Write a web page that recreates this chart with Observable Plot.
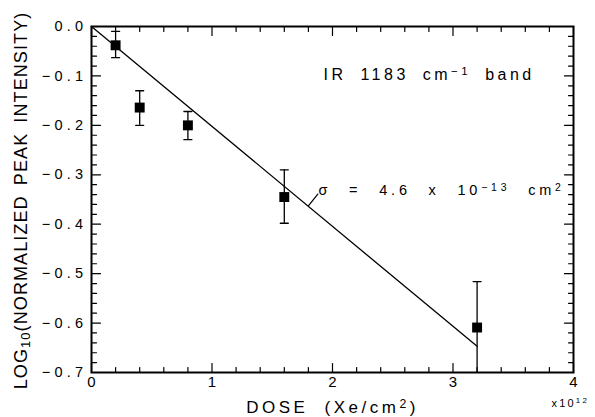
<!DOCTYPE html>
<html><head><meta charset="utf-8">
<script src="https://cdn.jsdelivr.net/npm/d3@7"></script>
<script src="https://cdn.jsdelivr.net/npm/@observablehq/plot@0.6"></script>
<style>
html,body{margin:0;padding:0;background:#fff;}
</style>
</head><body><div id="chart"></div>
<script>
// ---- data ----
const dose   = [0.2, 0.4, 0.8, 1.6, 3.2];            // x10^12 Xe/cm^2
const logInt = [-0.038, -0.164, -0.200, -0.345, -0.609];
const errHi  = [-0.010, -0.130, -0.172, -0.290, -0.516];
const errLo  = [-0.063, -0.200, -0.229, -0.398, -0.700];
const fitDose = [0, 3.2];
const fitLog  = [0, -0.647];
const leaderDose = [1.80, 1.878];
const leaderLog  = [-0.363, -0.339];
const xMajor = [0, 1, 2, 3, 4];
const xTickLabels = ["0", "1", "2", "3", "4"];
const yMajor = [0, -0.1, -0.2, -0.3, -0.4, -0.5, -0.6, -0.7];
const yTickLabels = ["0.0", "\u22120.1", "\u22120.2", "\u22120.3", "\u22120.4", "\u22120.5", "\u22120.6", "\u22120.7"];
const xMinor = d3.range(0, 4.0001, 0.2);
const yMinor = d3.range(0, -0.7001, -0.02);
const bandLabel = "IR 1183 cm^{\u22121} band";
const sigmaLabel = "\u03c3 = 4.6 x 10^{\u221213} cm^{2}";
const xTitle = "DOSE (Xe/cm^{2})";
const yTitle = "LOG_{10}(NORMALIZED PEAK INTENSITY)";
const xExp = "x10^{12}";

const points = dose.map((d, i) => ({dose: d, v: logInt[i], hi: errHi[i], lo: errLo[i]}));
const fit = fitDose.map((d, i) => ({dose: d, v: fitLog[i]}));
const leader = leaderDose.map((d, i) => ({dose: d, v: leaderLog[i]}));

const tickShape = {draw(ctx, l) { ctx.moveTo(0, 0); ctx.lineTo(0, -l); }};
const isMajorX = d => Math.abs(d - Math.round(d)) < 1e-6;
const isMajorY = d => Math.abs(d * 10 - Math.round(d * 10)) < 1e-6;
const xMin = xMinor.filter(d => !isMajorX(d));
const yMin = yMinor.filter(d => !isMajorY(d));

const tk = {shape: tickShape, anchor: "start", stroke: "black", strokeWidth: 1.2};

const chart = Plot.plot({
  width: 595, height: 417,
  marginLeft: 91, marginRight: 22, marginTop: 26, marginBottom: 45,
  x: {domain: [0, 4], axis: null},
  y: {domain: [-0.7, 0], axis: null},
  style: {fontFamily: "'Liberation Sans', Arial, sans-serif", background: "white", color: "black"},
  marks: [
    // ticks, inward on all four sides
    Plot.vector(xMajor, {x: d => d, frameAnchor: "bottom", length: 9, rotate: 0, ...tk}),
    Plot.vector(xMin, {x: d => d, frameAnchor: "bottom", length: 5, rotate: 0, ...tk}),
    Plot.vector(xMajor, {x: d => d, frameAnchor: "top", length: 9, rotate: 180, ...tk}),
    Plot.vector(xMin, {x: d => d, frameAnchor: "top", length: 5, rotate: 180, ...tk}),
    Plot.vector(yMajor, {y: d => d, frameAnchor: "left", length: 9, rotate: 90, ...tk}),
    Plot.vector(yMin, {y: d => d, frameAnchor: "left", length: 5, rotate: 90, ...tk}),
    Plot.vector(yMajor, {y: d => d, frameAnchor: "right", length: 9, rotate: -90, ...tk}),
    Plot.vector(yMin, {y: d => d, frameAnchor: "right", length: 5, rotate: -90, ...tk}),
    Plot.frame({stroke: "black", strokeWidth: 2}),
    // tick labels
    Plot.text(xMajor, {x: d => d, frameAnchor: "bottom", dy: 14, text: (d, i) => xTickLabels[i], fontSize: 15, ariaLabel: () => "xticklabels"}),
    Plot.text(yMajor, {y: d => d, frameAnchor: "left", dx: -4.2, textAnchor: "end", text: (d, i) => yTickLabels[i], fontSize: 14.5, ariaLabel: () => "yticklabels"}),
    Plot.text([xExp], {frameAnchor: "bottom-right", dx: -22, dy: 34, textAnchor: "start", text: d => d, fontSize: 11, ariaLabel: () => "xexp"}),
    // axis titles
    Plot.text([xTitle], {frameAnchor: "bottom", dy: 40, textAnchor: "middle", text: d => d, fontSize: 17, ariaLabel: () => "xtitle"}),
    Plot.text([yTitle], {frameAnchor: "left", dx: -70, dy: 1, rotate: -90, textAnchor: "middle", text: d => d, fontSize: 18, ariaLabel: () => "ytitle"}),
    // fit line and leader
    Plot.line(fit, {x: "dose", y: "v", stroke: "black", strokeWidth: 1.3}),
    Plot.line(leader, {x: "dose", y: "v", stroke: "black", strokeWidth: 1.2}),
    // error bars
    Plot.ruleX(points, {x: "dose", y1: "lo", y2: "hi", stroke: "black", strokeWidth: 1.3}),
    Plot.vector(points, {x: "dose", y: "hi", rotate: 90, anchor: "middle", length: 8, shape: tickShape, stroke: "black", strokeWidth: 1.3}),
    Plot.vector(points.filter(p => p.lo > -0.7), {x: "dose", y: "lo", rotate: 90, anchor: "middle", length: 8, shape: tickShape, stroke: "black", strokeWidth: 1.3}),
    Plot.dot(points, {x: "dose", y: "v", symbol: "square", r: 5.6, fill: "black", stroke: null}),
    // annotations
    Plot.text([bandLabel], {x: () => 1.925, y: () => -0.097, textAnchor: "start", text: d => d, fontSize: 16, ariaLabel: () => "band"}),
    Plot.text([sigmaLabel], {x: () => 1.884, y: () => -0.332, textAnchor: "start", text: d => d, fontSize: 14.5, ariaLabel: () => "sigma"})
  ]
});

const NS = "http://www.w3.org/2000/svg";
function richify(el) {
  const s = el.textContent;
  if (!/[\^_]\{/.test(s)) return;
  const parts = s.split(/([\^_]\{[^}]*\})/).filter(p => p.length);
  el.textContent = "";
  for (const p of parts) {
    const ts = document.createElementNS(NS, "tspan");
    if (p[0] === "^" || p[0] === "_") {
      ts.textContent = p.slice(2, -1);
      ts.setAttribute("font-size", "72%");
      ts.setAttribute("baseline-shift", p[0] === "^" ? "45%" : "-25%");
    } else {
      ts.textContent = p;
    }
    el.appendChild(ts);
  }
}
chart.querySelectorAll("text").forEach(richify);
const spacing = {
  xticklabels: ["0px", "0px"],
  yticklabels: ["4.2px", "0px"],
  xexp: ["2.2px", "0px"],
  xtitle: ["3.5px", "8px"],
  ytitle: ["1.1px", "4px"],
  band: ["3.5px", "6px"],
  sigma: ["3.8px", "10px"]
};
for (const [k, [ls, ws]] of Object.entries(spacing)) {
  chart.querySelectorAll(`[aria-label="${k}"]`).forEach(el => {
    el.style.letterSpacing = ls;
    el.style.wordSpacing = ws;
  });
}
document.getElementById("chart").appendChild(chart);
</script>
</body></html>
